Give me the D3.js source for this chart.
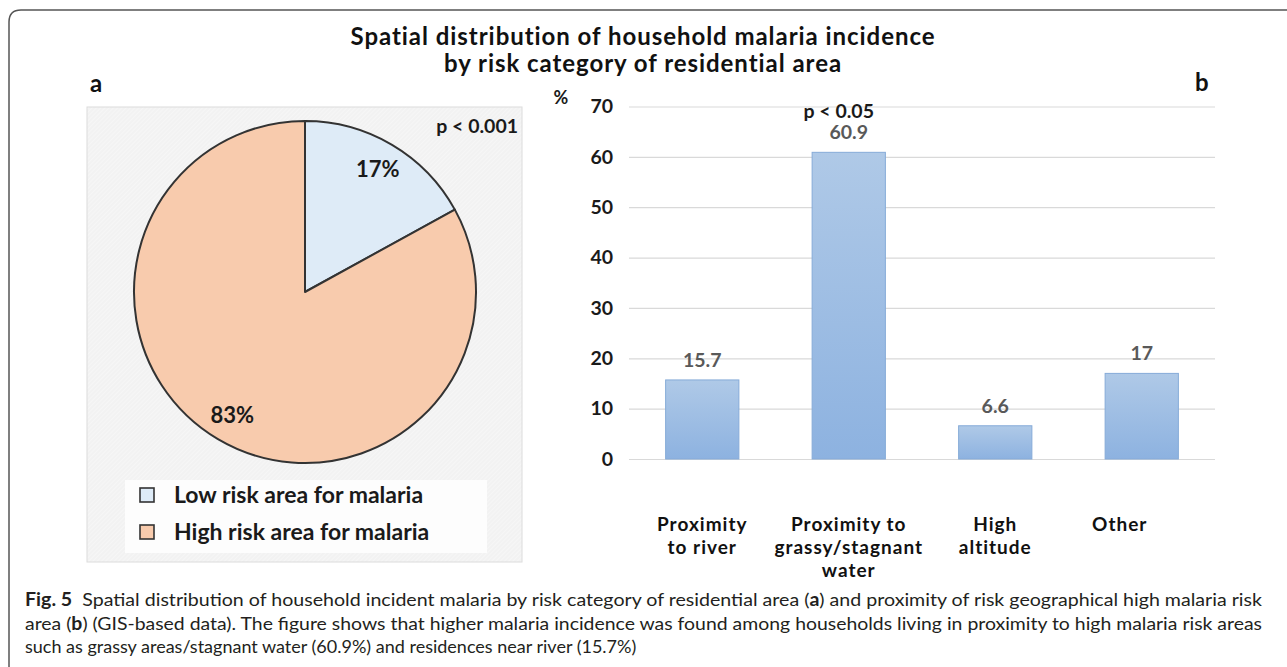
<!DOCTYPE html>
<html>
<head>
<meta charset="utf-8">
<script src="https://cdn.jsdelivr.net/npm/d3@7"></script>
<style>
  html, body { margin: 0; padding: 0; background: #fff; }
  svg { display: block; }
  text { font-family: Lato, "Noto Sans", sans-serif; }
</style>
</head>
<body>
<svg id="chart" width="1287" height="667"></svg>
<script>
// ---------- data ----------
const titleLines = ["Spatial distribution of household malaria incidence", "by risk category of residential area"];
const pieLabels = ["Low risk area for malaria", "High risk area for malaria"];
const pieValues = [17, 83];
const pieColors = ["#deebf7", "#f8cbad"];
const pieNote = "p < 0.001";

const categories = ["Proximity to river", "Proximity to grassy/stagnant water", "High altitude", "Other"];
const categoryLines = [["Proximity", "to river"], ["Proximity to", "grassy/stagnant", "water"], ["High", "altitude"], ["Other"]];
const barValues = [15.7, 60.9, 6.6, 17];
const barValueLabels = ["15.7", "60.9", "6.6", "17"];
const barNote = "p < 0.05";
const yTicks = [0, 10, 20, 30, 40, 50, 60, 70];
const yUnit = "%";

const captionLines = [
  [["Fig. 5", true], ["  Spatial distribution of household incident malaria by risk category of residential area (", false], ["a", true], [") and proximity of risk geographical high malaria risk", false]],
  [["area (", false], ["b", true], [") (GIS-based data). The figure shows that higher malaria incidence was found among households living in proximity to high malaria risk areas", false]],
  [["such as grassy areas/stagnant water (60.9%) and residences near river (15.7%)", false]]
];

// ---------- drawing ----------
const svg = d3.select("#chart");
svg.append("rect").attr("width", 1287).attr("height", 667).attr("fill", "#fff");

const defs = svg.append("defs");
const pat = defs.append("pattern").attr("id", "hatch").attr("patternUnits", "userSpaceOnUse")
  .attr("width", 3).attr("height", 3).attr("patternTransform", "rotate(45)");
pat.append("rect").attr("width", 3).attr("height", 3).attr("fill", "#f2f2f2");
pat.append("line").attr("x1", 0).attr("y1", 0).attr("x2", 0).attr("y2", 3).attr("stroke", "#fbfbfb").attr("stroke-width", 1);

const grad = defs.append("linearGradient").attr("id", "barGrad").attr("x1", 0).attr("y1", 0).attr("x2", 0).attr("y2", 1);
grad.append("stop").attr("offset", "0%").attr("stop-color", "#afc9e7");
grad.append("stop").attr("offset", "100%").attr("stop-color", "#8db2e0");

// outer frame (left and top edges with rounded corner)
svg.append("path").attr("d", "M9,667 L9,22 Q9,10 21,10 L1287,10")
  .attr("fill", "none").attr("stroke", "#555").attr("stroke-width", 1.5);

// title
svg.append("g").selectAll("text").data(titleLines).join("text")
  .attr("x", 643).attr("y", (d, i) => 45 + i * 26.5)
  .attr("text-anchor", "middle").attr("font-weight", "bold").attr("font-size", 24)
  .attr("letter-spacing", 0.95).attr("fill", "#111").text(d => d);

// panel letters
svg.append("text").attr("x", 90).attr("y", 92).attr("font-family", "Liberation Sans, Arial, sans-serif")
  .attr("font-weight", "bold").attr("font-size", 24).attr("fill", "#111").text("a");
svg.append("text").attr("x", 1195).attr("y", 91).attr("font-family", "Liberation Sans, Arial, sans-serif")
  .attr("font-weight", "bold").attr("font-size", 24).attr("fill", "#111").text("b");

// ---------- panel a: pie ----------
svg.append("rect").attr("x", 87).attr("y", 107).attr("width", 435).attr("height", 455)
  .attr("fill", "url(#hatch)").attr("stroke", "#dcdcdc").attr("stroke-width", 1);

const cx = 305, cy = 292, R = 171;
const pie = d3.pie().sort(null).value(d => d)(pieValues);
const arc = d3.arc().innerRadius(0).outerRadius(R);
const labelArc = d3.arc().innerRadius(143).outerRadius(143);
const gPie = svg.append("g").attr("transform", `translate(${cx},${cy})`);
gPie.selectAll("path").data(pie).join("path")
  .attr("d", arc).attr("fill", (d, i) => pieColors[i])
  .attr("stroke", "#333").attr("stroke-width", 2).attr("stroke-linejoin", "round");
gPie.selectAll("text").data(pie).join("text")
  .attr("transform", d => `translate(${labelArc.centroid(d)})`)
  .attr("text-anchor", "middle").attr("dy", "0.36em")
  .attr("font-weight", "bold").attr("font-size", 22).attr("fill", "#1a1a1a")
  .text(d => d.data + "%");

svg.append("text").attr("x", 518).attr("y", 133).attr("text-anchor", "end")
  .attr("font-weight", "bold").attr("font-size", 19.5).attr("fill", "#1a1a1a").text(pieNote);

// legend
svg.append("rect").attr("x", 125).attr("y", 480).attr("width", 362).attr("height", 73).attr("fill", "#fdfdfd");
const leg = svg.append("g").selectAll("g").data(pieLabels).join("g")
  .attr("transform", (d, i) => `translate(140,${495 + i * 37})`);
leg.append("rect").attr("x", 0).attr("y", -7).attr("width", 14).attr("height", 14)
  .attr("fill", (d, i) => pieColors[i]).attr("stroke", "#333").attr("stroke-width", 1.6);
leg.append("text").attr("x", 34).attr("dy", "0.36em")
  .attr("font-weight", "bold").attr("font-size", 23).attr("fill", "#1a1a1a").text(d => d);

// ---------- panel b: bars ----------
const x = d3.scaleBand().domain(categories).range([629, 1215]).paddingInner(0.5).paddingOuter(0.25);
const y = d3.scaleLinear().domain([0, 70]).range([459, 106.5]);

const yAxis = svg.append("g").attr("transform", "translate(629,0)")
  .call(d3.axisLeft(y).tickValues(yTicks).tickSize(-586).tickPadding(16).tickFormat(d3.format("d")));
yAxis.select(".domain").remove();
yAxis.selectAll(".tick line").attr("stroke", "#d9d9d9").attr("stroke-width", 1.2);
yAxis.selectAll(".tick text").attr("font-family", "Lato, sans-serif").attr("font-weight", "bold")
  .attr("font-size", 19.5).attr("fill", "#1a1a1a");

svg.append("text").attr("x", 561).attr("y", 98).attr("dy", "0.36em").attr("text-anchor", "middle")
  .attr("font-weight", "bold").attr("font-size", 18).attr("fill", "#1a1a1a").text(yUnit);

svg.append("g").selectAll("rect").data(barValues).join("rect")
  .attr("x", (d, i) => x(categories[i])).attr("width", x.bandwidth())
  .attr("y", d => y(d)).attr("height", d => y(0) - y(d))
  .attr("fill", "url(#barGrad)").attr("stroke", "#86abd8").attr("stroke-width", 1);

svg.append("g").selectAll("text").data(barValues).join("text")
  .attr("x", (d, i) => x(categories[i]) + x.bandwidth() / 2)
  .attr("y", d => y(d) - 20).attr("dy", "0.36em").attr("text-anchor", "middle")
  .attr("font-weight", "bold").attr("font-size", 19.5).attr("fill", "#595959")
  .text((d, i) => barValueLabels[i]);

svg.append("text").attr("x", x(categories[1]) + x.bandwidth() / 2 - 10).attr("y", y(barValues[1]) - 41)
  .attr("dy", "0.36em").attr("text-anchor", "middle")
  .attr("font-weight", "bold").attr("font-size", 19.5).attr("fill", "#1a1a1a").text(barNote);

const xAxis = svg.append("g").attr("transform", `translate(0,${y(0)})`)
  .call(d3.axisBottom(x).tickSize(0).tickFormat(""));
xAxis.select(".domain").remove();
xAxis.selectAll(".tick").each(function (d, i) {
  const dx = d === "Other" ? -22 : 0;
  const t = d3.select(this).append("text")
    .attr("text-anchor", "middle").attr("font-family", "Lato, sans-serif")
    .attr("font-weight", "bold").attr("font-size", 19).attr("letter-spacing", 1).attr("fill", "#111");
  categoryLines[i].forEach((line, j) => {
    t.append("tspan").attr("x", dx).attr("y", 72 + j * 23).text(line);
  });
});

// ---------- caption ----------
const capLengths = [1237, 1237, null];
captionLines.forEach((parts, i) => {
  const t = svg.append("text").attr("x", 25).attr("y", 606 + i * 23.5)
    .attr("font-size", 18).attr("fill", "#231f20");
  if (capLengths[i]) t.attr("textLength", capLengths[i]).attr("lengthAdjust", "spacingAndGlyphs");
  parts.forEach(([s, b]) => {
    t.append("tspan").attr("font-weight", b ? "bold" : "normal").attr("xml:space", "preserve").text(s);
  });
});
</script>
</body>
</html>
